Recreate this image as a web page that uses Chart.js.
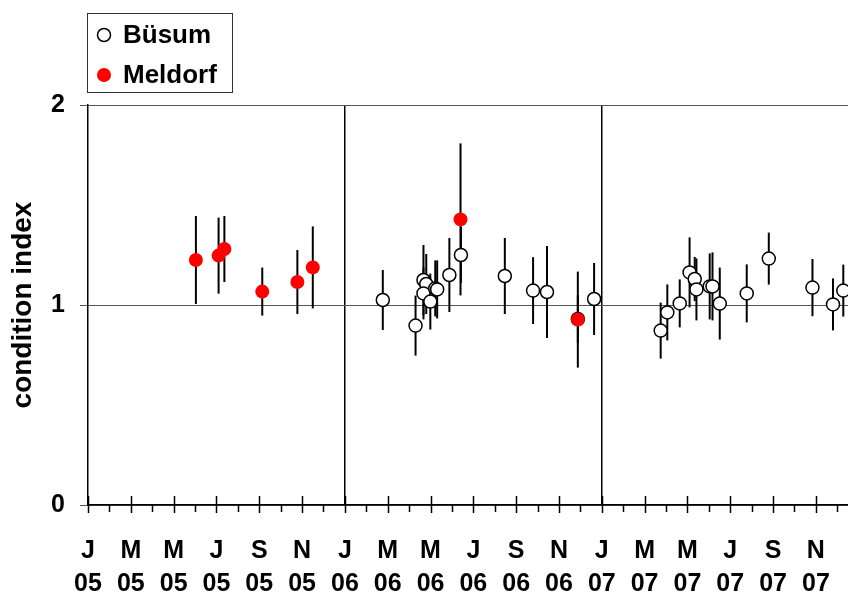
<!DOCTYPE html>
<html>
<head>
<meta charset="utf-8">
<script src="https://cdn.jsdelivr.net/npm/chart.js@4.4.0/dist/chart.umd.min.js"></script>
<style>
  html, body { margin: 0; padding: 0; background: #fff; }
  #wrap { width: 848px; height: 596px; }
</style>
</head>
<body>
<div id="wrap"><canvas id="chart"></canvas></div>
<script>
// --- DATA (x = months since Jan 2005) ---
const tickMonths = ['J', 'M', 'M', 'J', 'S', 'N'];
const tickYears = ['05', '06', '07'];

const buesumMonth = [13.77, 15.3, 15.67, 15.8, 15.67, 15.99, 16.22, 16.31, 16.88, 17.42, 19.47, 20.79, 21.44, 22.88, 23.64,
                     26.75, 27.06, 27.64, 28.1, 28.34, 28.42, 29.04, 29.17, 29.51, 30.77, 31.8, 33.84, 34.8, 35.28];
const buesumValue = [1.025, 0.897, 1.125, 1.105, 1.058, 1.017, 1.083, 1.078, 1.15, 1.25, 1.145, 1.072, 1.065, 0.93, 1.03,
                     0.872, 0.963, 1.008, 1.163, 1.13, 1.078, 1.093, 1.093, 1.007, 1.058, 1.232, 1.087, 1.003, 1.072];
const buesumErr   = [0.15, 0.15, 0.175, 0.15, 0.13, 0.14, 0.14, 0.145, 0.185, 0.14, 0.19, 0.167, 0.23, 0.12, 0.18,
                     0.14, 0.14, 0.12, 0.175, 0.11, 0.155, 0.165, 0.17, 0.18, 0.145, 0.13, 0.143, 0.13, 0.13];

const meldorfMonth = [5.04, 6.1, 6.37, 8.14, 9.78, 10.5, 17.4, 22.88];
const meldorfValue = [1.225, 1.247, 1.28, 1.067, 1.115, 1.188, 1.428, 0.927];
const meldorfErr   = [0.22, 0.19, 0.165, 0.12, 0.16, 0.205, 0.38, 0.24];

const FONT = "'Liberation Sans', Arial, sans-serif";

function toPoints(xs, ys) {
  return xs.map((x, i) => ({ x: x, y: ys[i] }));
}

// error bars drawn behind the markers
const errorBars = {
  id: 'errorBars',
  beforeDatasetsDraw(chart) {
    const ctx = chart.ctx;
    const xs = chart.scales.x, ys = chart.scales.y;
    ctx.save();
    ctx.strokeStyle = '#000';
    ctx.lineWidth = 2;
    chart.data.datasets.forEach(ds => {
      ds.data.forEach((p, i) => {
        const px = xs.getPixelForValue(p.x);
        ctx.beginPath();
        ctx.moveTo(px, ys.getPixelForValue(p.y + ds.errors[i]));
        ctx.lineTo(px, ys.getPixelForValue(p.y - ds.errors[i]));
        ctx.stroke();
      });
    });
    ctx.restore();
  }
};

// month ticks on the time axis: long every 2 months, short in between
const monthTicks = {
  id: 'monthTicks',
  afterDraw(chart) {
    const ctx = chart.ctx;
    const xs = chart.scales.x;
    const base = chart.chartArea.bottom;
    ctx.save();
    ctx.strokeStyle = '#000';
    ctx.lineWidth = 1.5;
    for (let m = 0; m <= 35; m++) {
      const px = Math.round(xs.getPixelForValue(m)) + 0.5;
      ctx.beginPath();
      if (m % 2 === 0) {
        ctx.moveTo(px, base - 9);
        ctx.lineTo(px, base + 8);
      } else {
        ctx.moveTo(px, base);
        ctx.lineTo(px, base + 7);
      }
      ctx.stroke();
    }
    ctx.restore();
  }
};

// boxed legend in the top left corner
const boxLegend = {
  id: 'boxLegend',
  afterDraw(chart) {
    const ctx = chart.ctx;
    ctx.save();
    ctx.strokeStyle = '#333';
    ctx.lineWidth = 1;
    ctx.strokeRect(87.5, 13.5, 145, 79);
    ctx.font = 'bold 26px ' + FONT;
    ctx.textBaseline = 'middle';
    ctx.fillStyle = '#000';
    const rows = [35, 75];
    chart.data.datasets.forEach((ds, i) => {
      ctx.beginPath();
      ctx.arc(104, rows[i], ds.pointRadius, 0, Math.PI * 2);
      ctx.fillStyle = ds.backgroundColor;
      ctx.fill();
      if (ds.borderWidth > 0) {
        ctx.lineWidth = ds.borderWidth;
        ctx.strokeStyle = ds.borderColor;
        ctx.stroke();
      }
      ctx.fillStyle = '#000';
      ctx.fillText(ds.label, 123, rows[i] + 1);
    });
    ctx.restore();
  }
};

window.onload = function() {
  const ctx = document.getElementById('chart').getContext('2d');
  new Chart(ctx, {
    type: 'scatter',
    data: {
      datasets: [
        {
          label: 'Büsum',
          data: toPoints(buesumMonth, buesumValue),
          errors: buesumErr,
          pointRadius: 6.5,
          pointHoverRadius: 6.5,
          borderWidth: 1.5,
          borderColor: '#000',
          backgroundColor: '#fff',
          order: 1
        },
        {
          label: 'Meldorf',
          data: toPoints(meldorfMonth, meldorfValue),
          errors: meldorfErr,
          pointRadius: 7,
          pointHoverRadius: 7,
          borderWidth: 0,
          borderColor: '#ff0000',
          backgroundColor: '#ff0000',
          order: 0
        }
      ]
    },
    options: {
      responsive: true,
      maintainAspectRatio: false,
      animation: false,
      layout: { autoPadding: false, padding: { top: 105, right: 0, left: 0, bottom: 0 } },
      plugins: { legend: { display: false }, tooltip: { enabled: false } },
      scales: {
        x: {
          type: 'linear',
          min: 0,
          max: 35.5,
          afterFit: axis => { axis.height = 91; axis.paddingLeft = 0; axis.paddingRight = 0; },
          border: { display: true, color: '#000', width: 1.5 },
          grid: {
            drawTicks: false,
            lineWidth: 1.5,
            color: c => (c.tick && (c.tick.value === 12 || c.tick.value === 24)) ? '#000' : 'rgba(0,0,0,0)'
          },
          ticks: {
            stepSize: 1,
            autoSkip: false,
            maxRotation: 0,
            padding: 30,
            color: '#000',
            font: { family: FONT, size: 25, weight: 'bold', lineHeight: 1.3 },
            callback: v => (Number.isInteger(v) && v % 2 === 0)
              ? [tickMonths[(v % 12) / 2], tickYears[Math.floor(v / 12)]] : ''
          }
        },
        y: {
          min: 0,
          max: 2,
          afterFit: axis => { axis.width = 88; axis.paddingTop = 0; axis.paddingBottom = 0; },
          border: { display: true, color: '#000', width: 1.5 },
          grid: { color: '#555', lineWidth: 1, tickLength: 8, tickColor: '#555' },
          ticks: {
            stepSize: 1,
            padding: 15,
            color: '#000',
            font: { family: FONT, size: 25, weight: 'bold' }
          },
          title: {
            display: true,
            text: 'condition index',
            color: '#000',
            padding: { top: 6, bottom: 0 },
            font: { family: FONT, size: 28, weight: 'bold' }
          }
        }
      }
    },
    plugins: [errorBars, monthTicks, boxLegend]
  });
};
</script>
</body>
</html>
